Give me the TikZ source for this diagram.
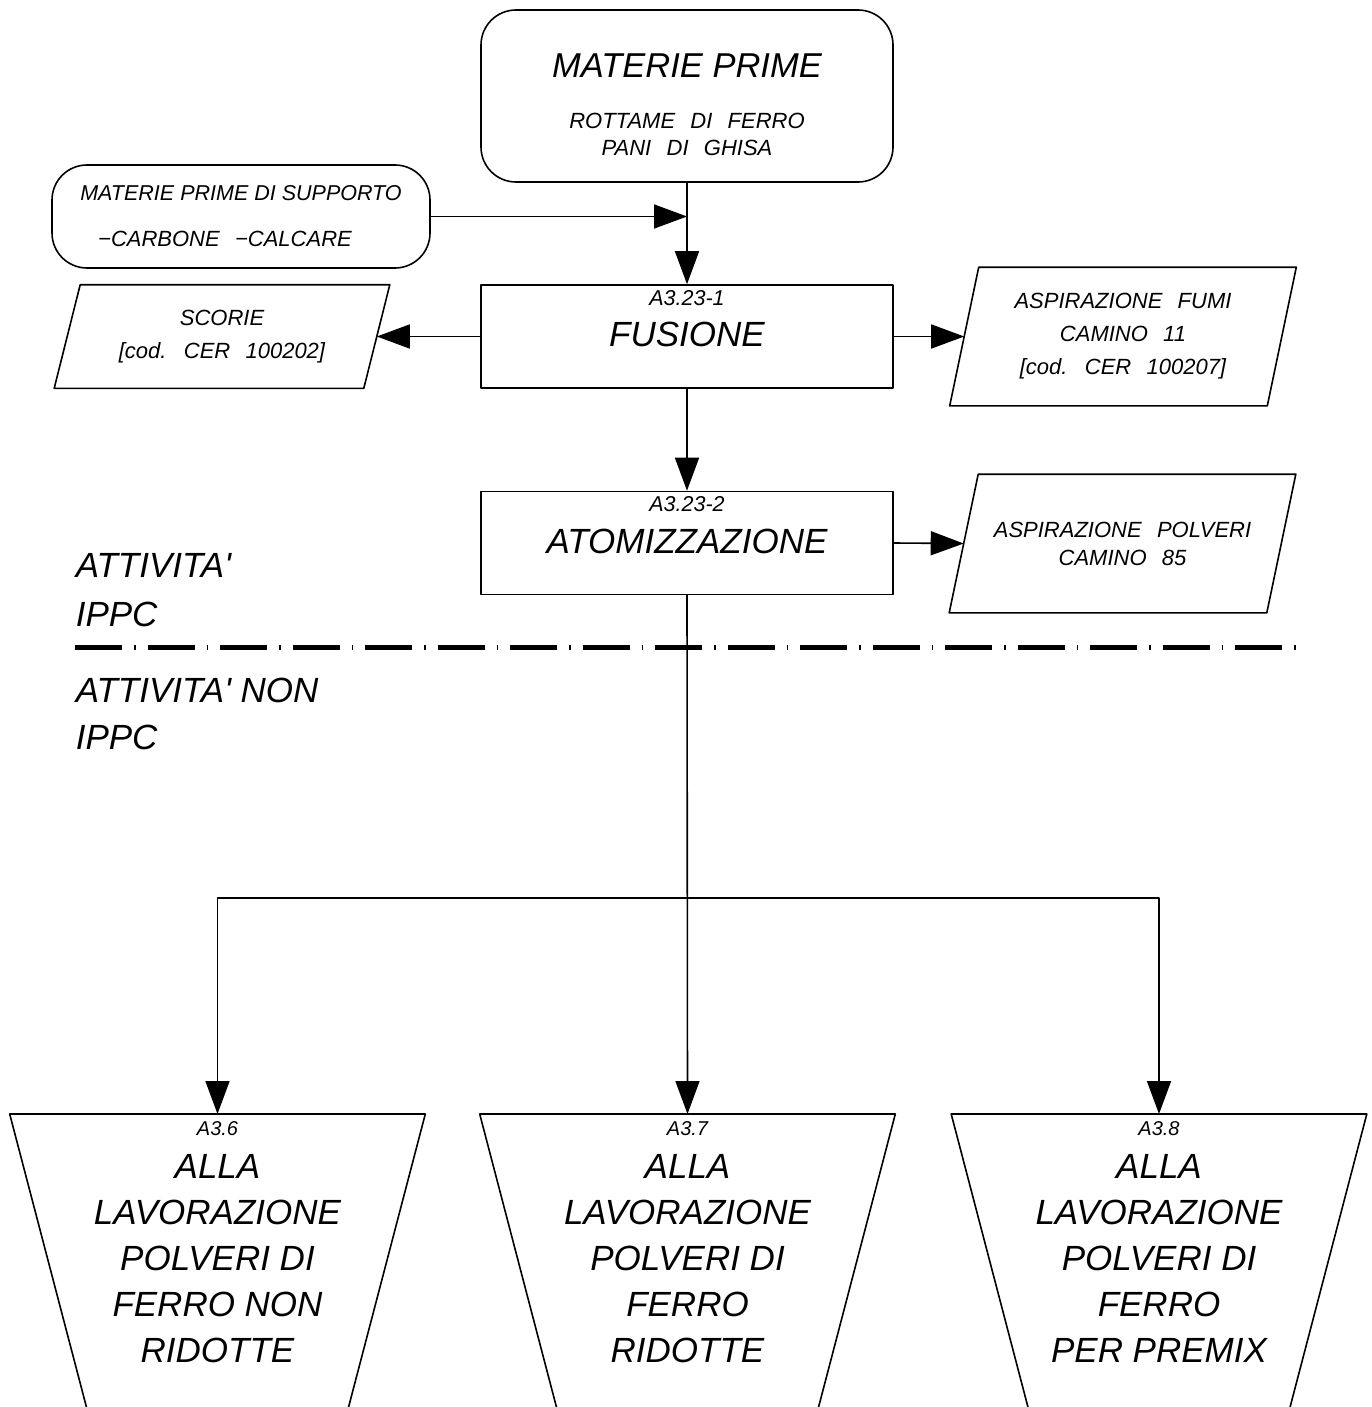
\documentclass[tikz,border=0pt]{standalone}
\usepackage{fontspec}
\setmainfont{Liberation Sans}
\newfontfamily\cadfont[WordSpace=2.5]{Liberation Sans}
\usepackage{tikz}
\usetikzlibrary{arrows.meta}
\usetikzlibrary{positioning}

\begin{document}
\begin{tikzpicture}[line cap=round,line join=round,>={Triangle[length=33pt,width=24pt]},x=1pt,y=-1pt,line width=1.6pt,
  box/.style={draw,rectangle,minimum width=412pt,minimum height=103pt,inner sep=0pt},
  rbox/.style={draw,rectangle,rounded corners=35pt,inner sep=0pt},
  outbox/.style={rectangle,minimum width=316pt,minimum height=137pt,inner sep=0pt,align=center,font=\cadfont\itshape\fontsize{22}{33}\selectfont},
  endbox/.style={rectangle,minimum width=414pt,minimum height=323pt,inner sep=0pt,anchor=north},
  tag/.style={inner sep=0pt,font=\itshape\fontsize{21.5}{24}\selectfont},
  big/.style={inner sep=0pt,align=center,font=\itshape\fontsize{35}{46}\selectfont},
  cad/.style={inner sep=0pt,align=center,font=\cadfont\itshape\fontsize{22}{27}\selectfont}]
        \useasboundingbox (0,0) rectangle (1371,1407);
        \clip (0,0) rectangle (1371,1407);
        % materie prime
        \node[rbox,minimum width=412pt,minimum height=172pt] (mp) at (687,96) {};
        \node[big,font=\itshape\fontsize{34.5}{40}\selectfont,below=44pt of mp.north] (mp-t) {MATERIE PRIME};
        \node[cad,below=34pt of mp-t] (mp-s) {ROTTAME DI FERRO\\PANI DI GHISA};
        \node[rbox,minimum width=378pt,minimum height=103pt] (sup) at (241,216.5) {};
        \node[tag,below=20pt of sup.north] (sup-t) {MATERIE PRIME DI SUPPORTO};
        \node[cad,below=29pt of sup-t,xshift=-16pt] (sup-s) {−CARBONE −CALCARE};
        % fasi IPPC
        \node[box] (fus) at (687,336.5) {};
        \node[tag,below=5pt of fus.north] (fus-tag) {A3.23-1};
        \node[big,below=15.5pt of fus-tag] (fus-t) {FUSIONE};
        \node[box] (atom) at (687,543) {};
        \node[tag,below=5pt of atom.north] (atom-tag) {A3.23-2};
        \node[big,below=15.5pt of atom-tag] (atom-t) {ATOMIZZAZIONE};
        % uscite
        \node[outbox,minimum width=308pt,minimum height=102pt] (scorie) at (222,336.5) {SCORIE\\{[}cod. CER 100202{]}};
        \draw ([xshift=13pt]scorie.north west) -- ([xshift=13pt]scorie.north east) -- ([xshift=-13pt]scorie.south east) -- ([xshift=-13pt]scorie.south west) -- cycle;
        \node[outbox] (fumi) at (1123,336.5) {ASPIRAZIONE FUMI\\CAMINO 11\\{[}cod. CER 100207{]}};
        \draw ([xshift=14.5pt]fumi.north west) -- ([xshift=14.5pt]fumi.north east) -- ([xshift=-14.5pt]fumi.south east) -- ([xshift=-14.5pt]fumi.south west) -- cycle;
        \node[outbox,font=\cadfont\itshape\fontsize{22}{28}\selectfont] (polv) at (1122.5,543.5) {ASPIRAZIONE POLVERI\\CAMINO 85};
        \draw ([xshift=14.5pt]polv.north west) -- ([xshift=14.5pt]polv.north east) -- ([xshift=-14.5pt]polv.south east) -- ([xshift=-14.5pt]polv.south west) -- cycle;
        % separazione
        \draw[line width=5pt,line cap=butt,dash pattern=on 47pt off 12pt on 1.5pt off 12pt] (75,647) -- (1297,647);
        \node[big,align=left,anchor=north west,font=\itshape\fontsize{35}{49}\selectfont] (ippc) at (75,553) {ATTIVITA\textquotesingle\\IPPC};
        \node[big,align=left,anchor=north west,font=\itshape\fontsize{35}{47}\selectfont] (nonippc) at (75,677) {ATTIVITA\textquotesingle{} NON\\IPPC};
        % lavorazioni
        \node[endbox] (tr1) at (217.5,1114) {};
        \draw (tr1.north west) -- (tr1.north east) -- ([xshift=-85pt]tr1.south east) -- ([xshift=85pt]tr1.south west) -- cycle;
        \node[tag,font=\itshape\fontsize{20}{24}\selectfont,below=7pt of tr1.north] (tr1-tag) {A3.6};
        \node[big,below=17pt of tr1-tag] (tr1-t) {ALLA\\LAVORAZIONE\\POLVERI DI\\FERRO NON\\RIDOTTE};
        \node[endbox] (tr2) at (687.5,1114) {};
        \draw (tr2.north west) -- (tr2.north east) -- ([xshift=-85pt]tr2.south east) -- ([xshift=85pt]tr2.south west) -- cycle;
        \node[tag,font=\itshape\fontsize{20}{24}\selectfont,below=7pt of tr2.north] (tr2-tag) {A3.7};
        \node[big,below=17pt of tr2-tag] (tr2-t) {ALLA\\LAVORAZIONE\\POLVERI DI\\FERRO\\RIDOTTE};
        \node[endbox] (tr3) at (1159,1114) {};
        \draw (tr3.north west) -- (tr3.north east) -- ([xshift=-85pt]tr3.south east) -- ([xshift=85pt]tr3.south west) -- cycle;
        \node[tag,font=\itshape\fontsize{20}{24}\selectfont,below=7pt of tr3.north] (tr3-tag) {A3.8};
        \node[big,below=17pt of tr3-tag] (tr3-t) {ALLA\\LAVORAZIONE\\POLVERI DI\\FERRO\\PER PREMIX};
        % collegamenti
        \draw[->] (mp.south) -- (fus.north);
        \draw[->] (sup.east) -- (sup.east -| fus.north);
        \draw[->] (fus.west) -- (scorie.east);
        \draw[->] (fus.east) -- (fumi.west);
        \draw[->] (fus.south) -- (atom.north);
        \draw[->] (atom.east) -- (polv.west);
        \draw[->] (atom.south) -- (tr2.north);
        \coordinate (split) at (687,898);
        \draw[->] (split) -| (tr1.north);
        \draw[->] (split) -| (tr3.north);
\end{tikzpicture}
\end{document}
